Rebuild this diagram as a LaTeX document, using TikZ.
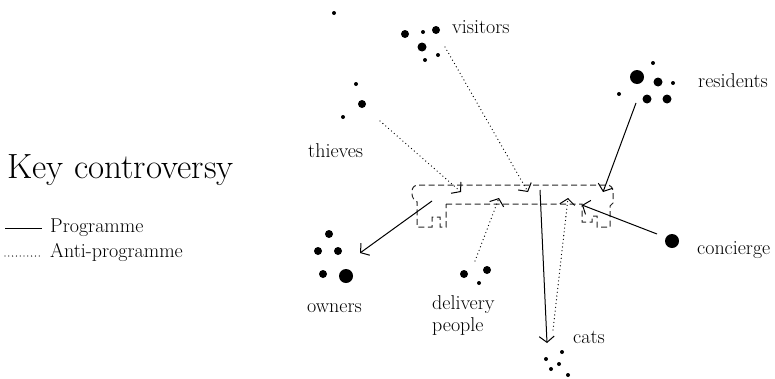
\documentclass[tikz,border=0pt]{standalone}
\usepackage{tikz}
\usetikzlibrary{arrows.meta}

\begin{document}
\begin{tikzpicture}[x=1pt, y=-1pt,
	who/.style={anchor=base west, inner sep=0pt, font=\fontsize{20}{22}\selectfont},
	prog/.style={line width=1pt, -{Straight Barb[length=6pt, width=15pt]}},
	anti/.style={line width=1.3pt, line cap=round, dash pattern=on 0pt off 3.8pt, -{Straight Barb[length=6pt, width=15pt, line width=1pt]}},
	keyline/.style={line width=1pt, draw=black!85, dash pattern=on 6pt off 3.5pt}]
	\useasboundingbox (0,0) rectangle (775,378);

	% legend
	\node (title) at (7,178) [who, font=\fontsize{35}{40}\selectfont] {Key controversy};
	\node (programme) at (50,232) [who] {Programme};
	\node (antiprogramme) at (50,257) [who] {Anti-programme};
	\coordinate (prog-l) at (5,228);
	\coordinate (prog-r) at (42,228);
	\coordinate (anti-l) at (5,256);
	\coordinate (anti-r) at (42,256);
	\draw [line width=1pt] (prog-l) -- (prog-r);
	\draw [anti, -] (anti-l) -- (anti-r);

	% the key
	\draw [keyline] (446,204) -- (582,204) -- (582,222) -- (592,222) -- (592,216) -- (597,216)
		-- (597,227) -- (610,227) -- (610,206) -- (613,203)
		[rounded corners=6pt] -- (613,185) -- (412,185) -- (412,200) [sharp corners]
		-- (417,202) -- (417,227) -- (432,227) -- (432,217) -- (440,217) -- (440,227) -- (446,227) -- cycle;

	% actors
	\foreach \px/\py/\r in {334/13/2, 405/34/4, 423/32/2, 436/30/4, 422/47/4.5, 425/60/2, 438/55/2,
		356/84/2, 362/104/4, 343/117/2,
		637/77/7, 653/63/2, 658/82/4.5, 673/83/2, 619/94/2, 647/99/4.5, 667/99/4.5,
		329/234/4, 318/251/4, 338/251/4, 323/274/4, 346/276/7,
		464/274/4, 487/270/4, 479/283/2,
		562/352/2, 546/359/2, 559/364/2, 551/369/2, 568/375/2,
		672/241/7}
		\fill (\px,\py) circle (\r pt);

	\node (visitors) at (452,33) [who] {visitors};
	\node (residents) at (698,87) [who] {residents};
	\node (thieves) at (308,157) [who] {thieves};
	\node (owners) at (307,312) [who] {owners};
	\node (delivery) at (432,295) [who, anchor=north west, align=left] {delivery\\people};
	\node (cats) at (573,343) [who] {cats};
	\node (concierge) at (697,254) [who] {concierge};

	% programmes and anti-programmes
	\coordinate (thieves-out) at (380,121);
	\coordinate (visitors-out) at (445,47);
	\coordinate (residents-out) at (636,103);
	\coordinate (concierge-out) at (657,234);
	\coordinate (owners-in) at (360,253);
	\coordinate (delivery-out) at (475,261);
	\coordinate (cats-in) at (547,343);
	\coordinate (cats-out) at (553,330);
	\coordinate (key-thieves) at (461,192);
	\coordinate (key-visitors) at (528,192);
	\coordinate (key-residents) at (603,192);
	\coordinate (key-concierge) at (582,205);
	\coordinate (key-owners) at (432,201);
	\coordinate (key-delivery) at (499,198);
	\coordinate (key-cats) at (540,190);
	\coordinate (key-cats-anti) at (568,198);

	\draw [anti] (thieves-out) -- (key-thieves);
	\draw [anti] (visitors-out) -- (key-visitors);
	\draw [prog] (residents-out) -- (key-residents);
	\draw [prog] (concierge-out) -- (key-concierge);
	\draw [prog] (key-owners) -- (owners-in);
	\draw [anti] (delivery-out) -- (key-delivery);
	\draw [prog] (key-cats) -- (cats-in);
	\draw [anti] (cats-out) -- (key-cats-anti);
\end{tikzpicture}
\end{document}
